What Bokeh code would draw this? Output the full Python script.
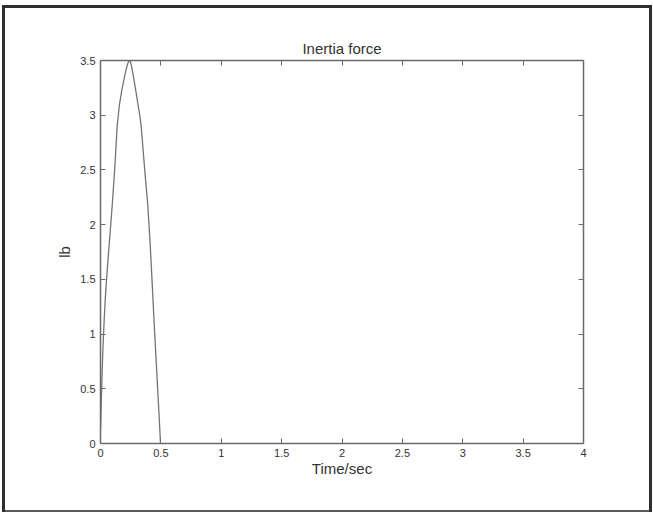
from bokeh.plotting import figure
from bokeh.models import Range1d, LinearAxis, FixedTicker
from bokeh.embed import file_html
from bokeh.resources import INLINE

# Data
t = [0.0, 0.005, 0.01, 0.015, 0.02, 0.03, 0.04, 0.05, 0.065, 0.08, 0.1, 0.12,
     0.138, 0.155, 0.175, 0.195, 0.21, 0.225, 0.237, 0.245, 0.255, 0.27, 0.29,
     0.31, 0.325, 0.337, 0.35, 0.37, 0.39, 0.41, 0.43, 0.45, 0.47, 0.485, 0.497]
force = [0.12, 0.32, 0.52, 0.7, 0.86, 1.12, 1.33, 1.5, 1.72, 1.93, 2.22, 2.55,
         2.9, 3.08, 3.22, 3.33, 3.41, 3.47, 3.5, 3.5, 3.46, 3.37, 3.24,
         3.1, 3.0, 2.9, 2.72, 2.45, 2.2, 1.85, 1.42, 0.98, 0.57, 0.26, 0.0]

xticks = [0, 0.5, 1, 1.5, 2, 2.5, 3, 3.5, 4]
xtick_labels = ["0", "0.5", "1", "1.5", "2", "2.5", "3", "3.5", "4"]
yticks = [0, 0.5, 1, 1.5, 2, 2.5, 3, 3.5]
ytick_labels = ["0", "0.5", "1", "1.5", "2", "2.5", "3", "3.5"]

FONT = "Liberation Sans"
TXT = "#333333"
AX = "#6a6a6a"

W, H = 652, 513
p = figure(width=W, height=H, output_backend="svg", toolbar_location=None,
           x_range=Range1d(xticks[0], xticks[-1]),
           y_range=Range1d(yticks[0], yticks[-1]),
           min_border_left=100, min_border_right=W - 583,
           min_border_top=60, min_border_bottom=H - 443,
           background_fill_color="white", border_fill_color=None)

# outer picture frame drawn behind the transparent canvas border
g = "linear-gradient({c},{c})"
dark = g.format(c="#2e2e2e")
grey = g.format(c="#5a5a5a")
p.styles = {
    "background": ", ".join([
        dark + " 2px 5px / 648px 3px no-repeat",
        dark + " 2px 5px / 3px 507px no-repeat",
        dark + " 649px 5px / 3px 507px no-repeat",
        grey + " 2px 510px / 650px 2px no-repeat",
        "white",
    ])
}

p.grid.visible = False
p.outline_line_color = None

p.title.text = "Inertia force"
p.title.align = "center"
p.title.text_font = FONT
p.title.text_font_style = "normal"
p.title.text_font_size = "15px"
p.title.text_color = TXT
p.title.standoff = 8

p.line(t, force, line_color="#747474", line_width=1.3)

def style(ax, labels, ticks):
    ax.ticker = FixedTicker(ticks=ticks)
    ax.major_tick_in = 5
    ax.major_tick_out = 0
    ax.minor_tick_in = 0
    ax.minor_tick_out = 0
    ax.axis_line_color = AX
    ax.axis_line_width = 1.5
    ax.major_tick_line_color = AX
    ax.major_label_text_font = FONT
    ax.major_label_text_font_size = "11px"
    ax.major_label_text_color = TXT
    ax.major_label_standoff = 5
    ax.major_label_overrides = {(int(v) if float(v).is_integer() else v): s
                                for v, s in zip(ticks, labels)}

xa = p.xaxis[0]
style(xa, xtick_labels, xticks)
xa.axis_label = "Time/sec"
xa.axis_label_text_font = FONT
xa.axis_label_text_font_style = "normal"
xa.axis_label_text_font_size = "15px"
xa.axis_label_text_color = TXT
xa.axis_label_standoff = 0

ya = p.yaxis[0]
style(ya, ytick_labels, yticks)
ya.axis_label = "lb"
ya.axis_label_text_font = FONT
ya.axis_label_text_font_style = "normal"
ya.axis_label_text_font_size = "15px"
ya.axis_label_text_color = TXT
ya.axis_label_standoff = 4
ya.major_label_orientation = "horizontal"

top = LinearAxis()
style(top, ["" for _ in xticks], xticks)
top.major_label_text_font_size = "0px"
top.major_label_standoff = 0
p.add_layout(top, "above")

right = LinearAxis()
style(right, ["" for _ in yticks], yticks)
right.major_label_text_font_size = "0px"
right.major_label_standoff = 0
p.add_layout(right, "right")

open("out.html", "w").write(file_html(p, INLINE))
